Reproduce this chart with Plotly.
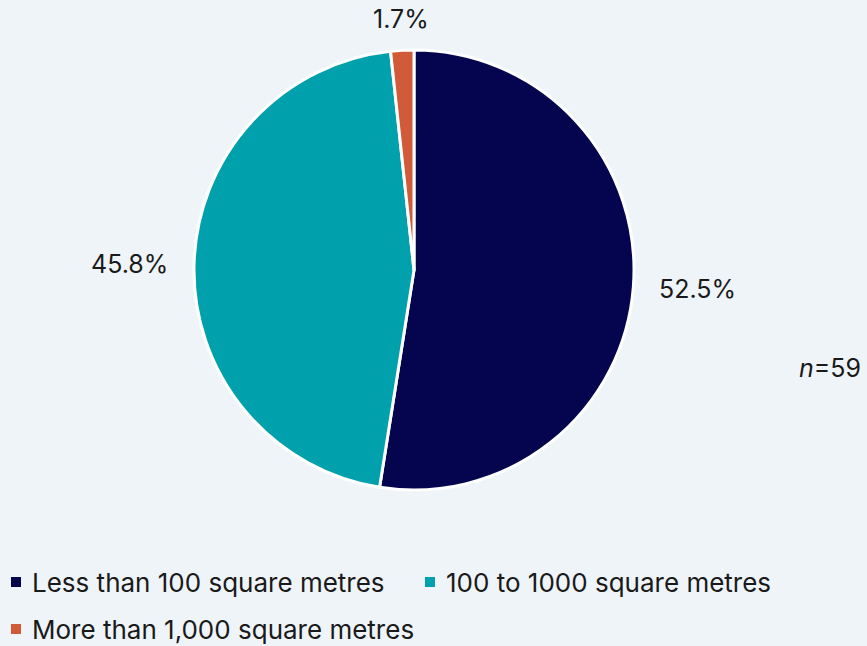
import math
import plotly.graph_objects as go

# Floor-area categories and their share of respondents (%)
categories = ["Less than 100 square metres", "100 to 1000 square metres", "More than 1,000 square metres"]
shares = [52.5, 45.8, 1.7]
colors = ["#05054F", "#00A0AC", "#D15B38"]
sample_note = "<i>n</i>=59"

W, H = 867, 646
cx, cy, r = 414, 270, 220
TEXT = "#1A1A1A"
FONT = "Inter"


def px(x):
    return x / W


def py(y):
    return 1 - y / H


fig = go.Figure(
    go.Pie(
        labels=categories,
        values=shares,
        sort=False,
        direction="clockwise",
        rotation=0,
        marker=dict(colors=colors, line=dict(color="#FFFFFF", width=3)),
        textinfo="none",
        hoverinfo="label+value",
        showlegend=False,
        domain=dict(
            x=[(cx - r) / W, (cx + r) / W],
            y=[(H - (cy + r)) / H, (H - (cy - r)) / H],
        ),
    )
)

# Percentage labels placed just outside each slice, at the slice's mid-angle
total = sum(shares)
start = 0.0
for val in shares:
    mid = (start + val / 2) / total * 2 * math.pi  # clockwise from 12 o'clock
    start += val
    sx, sy = math.sin(mid), -math.cos(mid)  # screen direction (y down)
    if abs(sx) >= abs(sy):
        d = r + 24
        xanchor = "left" if sx > 0 else "right"
    else:
        d = r + 31
        xanchor = "center"
    fig.add_annotation(
        text=f"{val:.1f}%", x=px(cx + sx * d), y=py(cy + sy * d),
        xref="paper", yref="paper", xanchor=xanchor, yanchor="middle",
        showarrow=False, font=dict(size=25, color=TEXT, family=FONT),
    )

fig.add_annotation(
    text=sample_note, x=px(830), y=py(368), xref="paper", yref="paper",
    xanchor="center", yanchor="middle",
    showarrow=False, font=dict(size=25, color=TEXT, family=FONT),
)

# Legend: coloured squares with category names, two rows
legend_slots = [(11, 582), (425, 582), (11, 629)]
for name, col, (lx, ly) in zip(categories, colors, legend_slots):
    fig.add_shape(
        type="rect", xref="paper", yref="paper",
        x0=px(lx), x1=px(lx + 10), y0=py(ly + 5), y1=py(ly - 5),
        fillcolor=col, line=dict(width=0),
    )
    fig.add_annotation(
        text=name, x=px(lx + 19), y=py(ly), xref="paper", yref="paper",
        xanchor="left", yanchor="middle", showarrow=False,
        font=dict(size=26, color=TEXT, family=FONT),
    )

fig.update_layout(
    width=W, height=H,
    margin=dict(l=0, r=0, t=0, b=0),
    paper_bgcolor="#EFF4F9",
    plot_bgcolor="#EFF4F9",
    font=dict(family=FONT, color=TEXT),
    showlegend=False,
)

fig.write_html("out.html")
